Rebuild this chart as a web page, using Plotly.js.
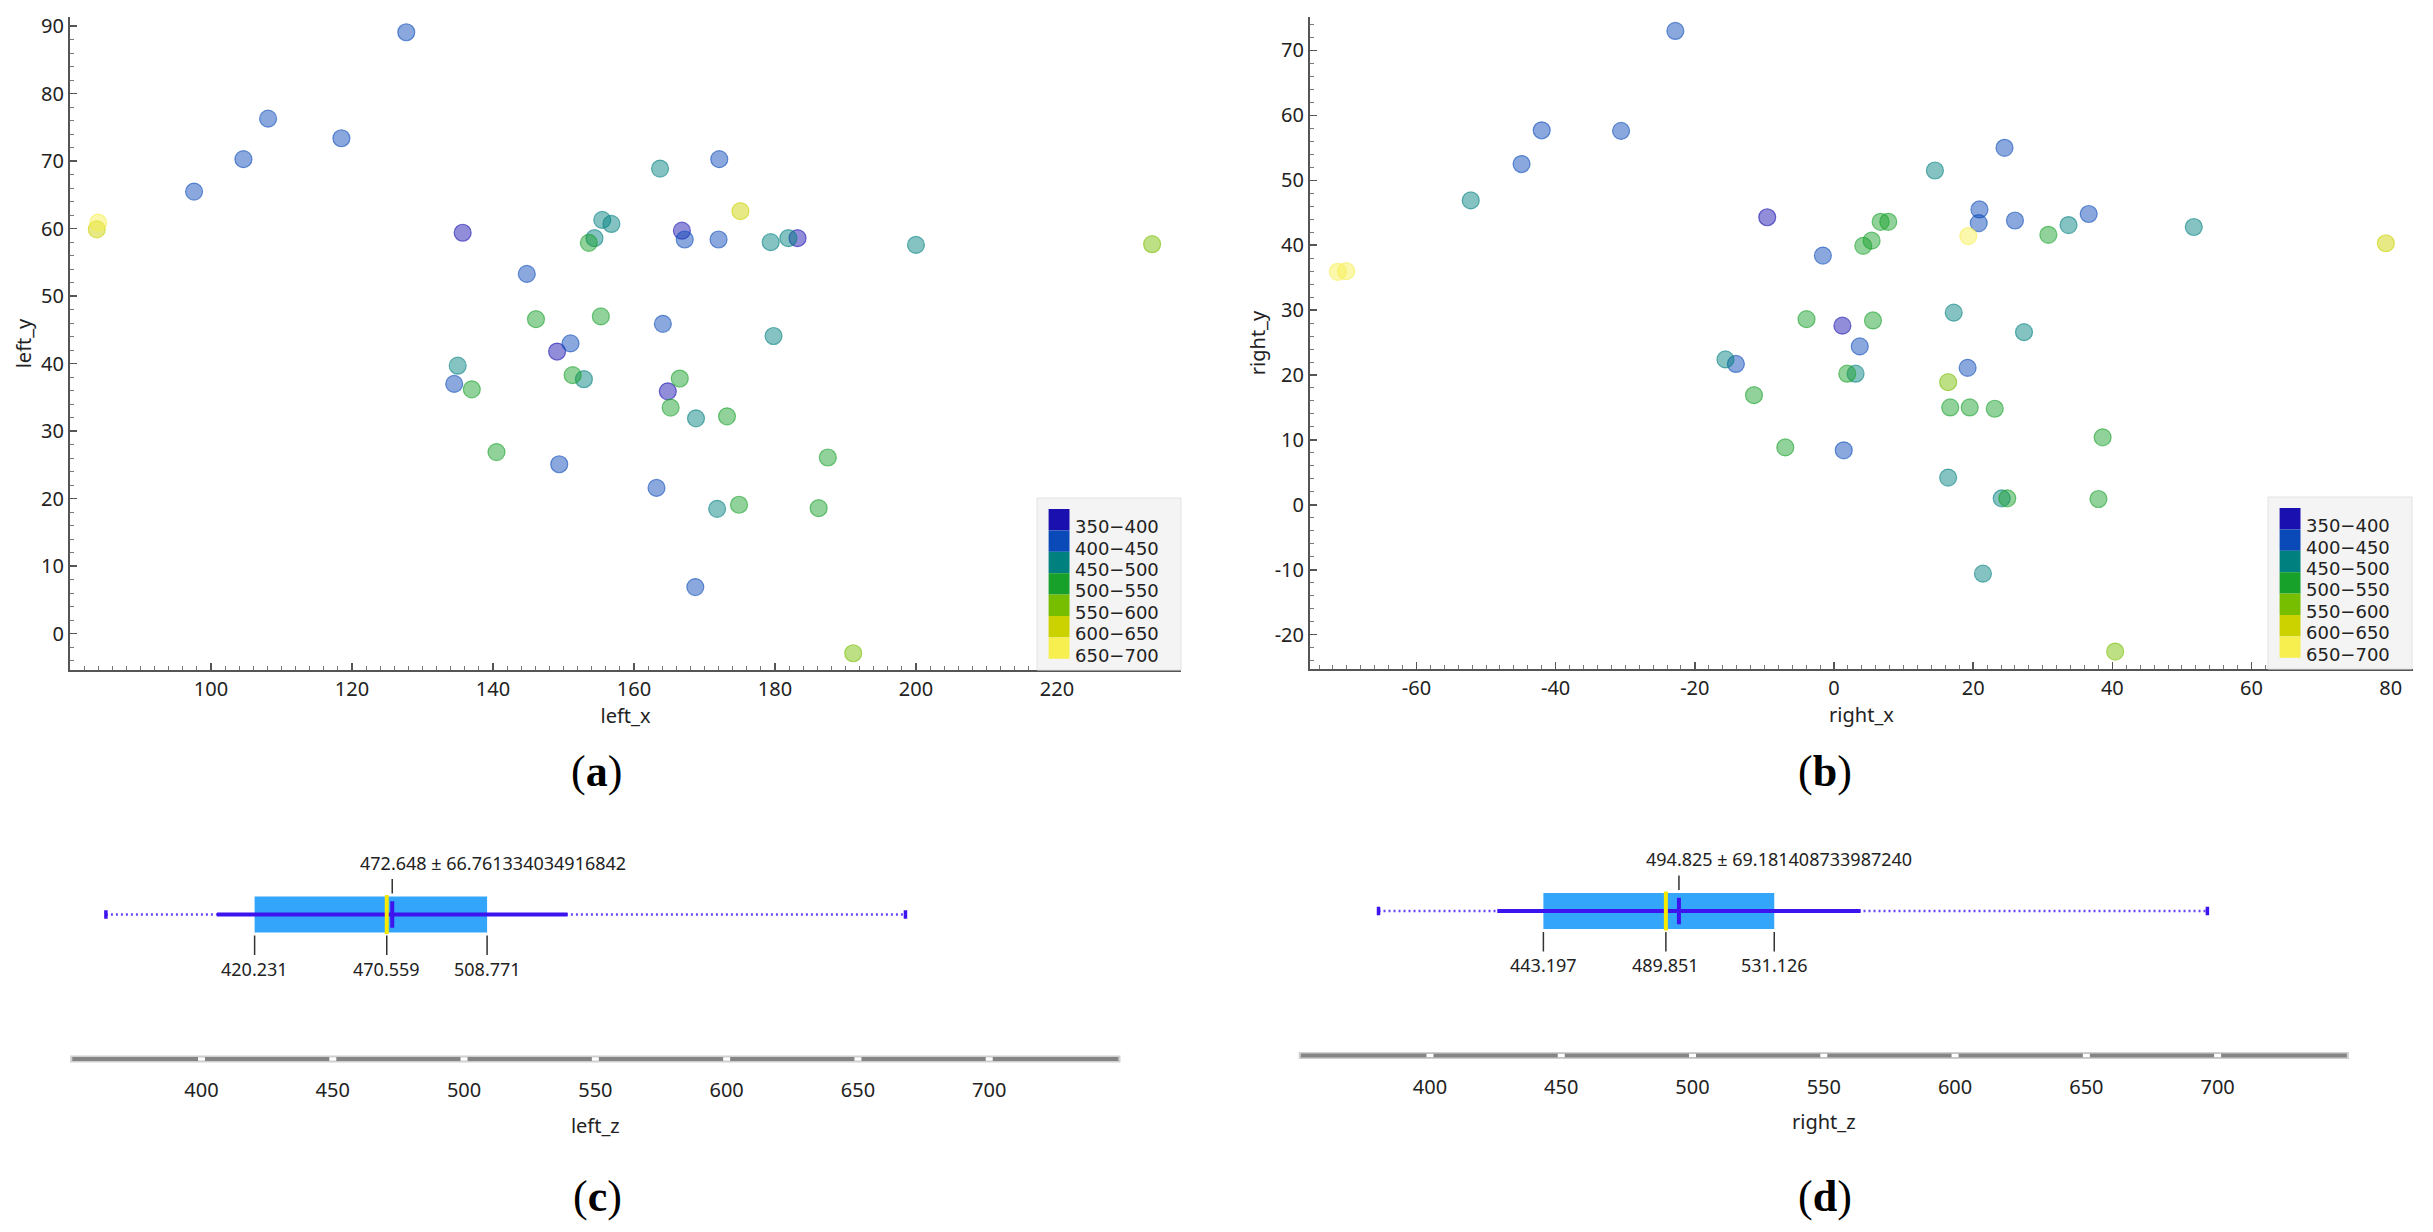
<!DOCTYPE html>
<html>
<head>
<meta charset="utf-8">
<script src="https://cdn.plot.ly/plotly-3.0.1.min.js"></script>
<style>html,body{margin:0;padding:0;background:#fff}#chart{width:2433px;height:1232px}</style>
</head>
<body>
<div id="chart"></div>
<script>
// ---------- data ----------
const binLabels = ['350−400','400−450','450−500','500−550','550−600','600−650','650−700'];
const binColors = ['#1a10b0','#0a4ab8','#00807f','#17a02a','#78be00','#ccd200','#f7ee50'];

const leftX = [127.7,108.1,118.5,104.6,97.6,84.0,83.8,135.7,144.8,146.1,151.0,149.1,135.0,134.5,137.0,151.3,152.9,140.5,149.4,
  155.5,156.8,154.4,153.6,155.3,163.7,172.1,175.1,166.8,167.2,172.0,179.4,181.9,183.2,200.0,233.5,164.1,179.8,166.5,164.8,
  165.2,168.8,173.2,187.5,163.2,171.8,174.9,186.2,168.7,191.1];
const leftY = [89.1,76.3,73.4,70.3,65.5,60.9,59.9,59.4,53.3,46.6,43.0,41.8,39.7,37.0,36.2,38.3,37.7,26.9,25.1,
  61.3,60.7,58.6,57.9,47.0,68.9,70.3,62.6,59.7,58.4,58.4,58.0,58.6,58.6,57.6,57.7,45.9,44.1,37.8,35.9,
  33.5,31.9,32.2,26.1,21.6,18.5,19.1,18.6,6.9,-2.9];
const leftBin = [1,1,1,1,1,6,5,0,1,3,1,0,2,1,3,3,2,3,1,
  2,2,2,3,3,2,1,5,0,1,1,2,2,0,2,4,1,2,3,0,
  3,2,3,3,1,2,3,3,1,4];

const rightX = [-22.8,-42.0,-30.6,-44.9,-52.2,-71.3,-70.1,-9.6,-1.6,-3.95,1.2,-15.6,-14.1,-11.5,-7.0,1.4,24.5,14.5,20.9,20.8,
  26.0,36.6,33.7,51.7,6.7,7.8,5.4,4.2,19.3,30.8,79.3,5.6,17.2,27.3,3.7,19.2,1.9,3.1,16.4,16.7,19.5,23.1,38.6,16.4,
  24.1,24.9,38.0,21.4,40.4];
const rightY = [73.0,57.7,57.6,52.5,46.9,35.9,36.0,44.3,38.4,28.6,27.6,22.4,21.7,16.9,8.85,8.4,55.0,51.5,45.5,43.4,
  43.8,44.8,43.1,42.8,43.6,43.6,40.7,39.9,41.4,41.6,40.3,28.4,29.6,26.6,24.4,21.1,20.2,20.2,18.9,15.0,15.0,14.8,10.4,4.2,
  1.0,1.0,0.9,-10.6,-22.6];
const rightBin = [1,1,1,1,2,6,6,0,1,3,0,2,1,3,3,1,1,2,1,1,
  1,1,2,2,3,3,3,3,6,3,5,3,2,2,1,1,3,2,4,3,3,3,3,2,
  2,3,3,2,4];

// tick labels
const leftXTicks  = [100,120,140,160,180,200,220];
const leftYTicks  = [0,10,20,30,40,50,60,70,80,90];
const rightXTicks = [-60,-40,-20,0,20,40,60,80];
const rightYTicks = [-20,-10,0,10,20,30,40,50,60,70];
const zTicks = [400,450,500,550,600,650,700];

// summary statistics of left_z and right_z
const leftStats  = {q1:420.231, median:470.559, q3:508.771, mean:472.648, sd:66.761334034916842, sdText:'66.761334034916842', min:363.6, max:668.1};
const rightStats = {q1:443.197, median:489.851, q3:531.126, mean:494.825, sd:69.18140873398724, sdText:'69.181408733987240', min:380.4, max:696.1};

// ---------- helpers ----------
const W = 2433, H = 1232;
const PX = v => v / W;
const PY = v => 1 - v / H;
const FONT = 'Noto Sans, Open Sans, sans-serif';
const LEGFONT = 'DejaVu Sans, sans-serif';
function rgba(hex, a){
  const n = parseInt(hex.slice(1),16);
  return `rgba(${(n>>16)&255},${(n>>8)&255},${n&255},${a})`;
}

function scatterTraces(xs, ys, bins, xa, ya){
  return binLabels.map((lab, b) => {
    const idx = bins.map((v,i)=> v===b ? i : -1).filter(i=>i>=0);
    return {type:'scatter', mode:'markers', xaxis:xa, yaxis:ya, showlegend:false, hoverinfo:'skip',
      x: idx.map(i=>xs[i]), y: idx.map(i=>ys[i]),
      marker:{size:17, color:rgba(binColors[b],0.48), line:{width:1.2, color:rgba(binColors[b],0.58)}}};
  });
}

const BOXBLUE = '#33a5fb', LINEBLUE = '#3d14ee', DOTBLUE = '#6a45ff', MEDYEL = '#f5ea00';
function statTraces(s, xa, ya){
  return [
    {type:'bar', orientation:'h', xaxis:xa, yaxis:ya, base:[s.q1], x:[s.q3-s.q1], y:[0], width:0.249,
      marker:{color:BOXBLUE, line:{width:0}}, showlegend:false, hoverinfo:'skip'},
    {type:'scatter', mode:'lines', xaxis:xa, yaxis:ya, x:[s.min, s.max], y:[0,0],
      line:{color:DOTBLUE, width:2.5, dash:'2px,3px'}, showlegend:false, hoverinfo:'skip'},
    {type:'scatter', mode:'lines', xaxis:xa, yaxis:ya, x:[s.mean - s.sd, s.mean + s.sd], y:[0,0],
      line:{color:LINEBLUE, width:4}, showlegend:false, hoverinfo:'skip'},
    {type:'scatter', mode:'markers', xaxis:xa, yaxis:ya, x:[s.min, s.max], y:[0,0],
      marker:{symbol:'line-ns', size:6, line:{width:3.5, color:LINEBLUE}}, showlegend:false, hoverinfo:'skip'},
    {type:'scatter', mode:'markers', xaxis:xa, yaxis:ya, x:[s.median], y:[0],
      marker:{symbol:'line-ns', size:28, line:{width:4, color:MEDYEL}}, showlegend:false, hoverinfo:'skip'},
    {type:'scatter', mode:'markers', xaxis:xa, yaxis:ya, x:[s.mean], y:[0],
      marker:{symbol:'line-ns', size:19, line:{width:4, color:LINEBLUE}}, showlegend:false, hoverinfo:'skip'}
  ];
}

function statAnnotations(s, xa, ya){
  const out = [];
  [s.q1, s.median, s.q3].forEach(v => out.push({
    xref:xa, yref:ya, x:v, y:0, text:v.toFixed(3), showarrow:true, arrowhead:0, arrowwidth:1.5,
    arrowcolor:'#333', ax:0, ay:54, standoff:21, font:{family:FONT, size:18, color:'#222'}
  }));
  out.push({xref:xa, yref:ya, x:s.mean, y:0, text:'', showarrow:true, arrowhead:0, arrowwidth:1.5,
    arrowcolor:'#333', ax:0, ay:-37, standoff:21});
  out.push({xref:xa, yref:ya, x:s.mean, y:0, text:s.mean.toFixed(3)+' ± '+s.sdText, showarrow:false,
    xanchor:'left', yanchor:'middle', xshift:-34.5, yshift:52, font:{family:FONT, size:18, color:'#222'}});
  return out;
}

function rulerShapes(xa, ya){
  const sh = [
    {type:'line', xref:xa+' domain', yref:ya+' domain', x0:0, x1:1, y0:0, y1:0, line:{color:'#d0d0d0', width:7}},
    {type:'line', xref:xa+' domain', yref:ya+' domain', x0:0.002, x1:0.998, y0:0, y1:0, line:{color:'#858585', width:4}}
  ];
  zTicks.forEach(t => sh.push({type:'rect', xref:xa, yref:ya+' domain', xsizemode:'pixel', ysizemode:'pixel',
    xanchor:t, yanchor:0, x0:-3.5, x1:3.5, y0:-1.8, y1:1.8, fillcolor:'#ffffff', line:{width:0}}));
  return sh;
}

function legendItems(left, bottom){
  const shapes = [{type:'rect', xref:'paper', yref:'paper', x0:PX(left), x1:PX(left+144), y0:PY(bottom), y1:PY(bottom-172),
    fillcolor:'#f4f4f4', line:{color:'#e2e2e2', width:1}, layer:'above'}];
  const ann = [];
  const top = bottom - 161, step = 21.4;
  binLabels.forEach((lab, i) => {
    shapes.push({type:'rect', xref:'paper', yref:'paper', x0:PX(left+11.6), x1:PX(left+32.5),
      y0:PY(top + i*step), y1:PY(top + (i+1)*step), fillcolor:binColors[i], line:{width:0}, layer:'above'});
    ann.push({xref:'paper', yref:'paper', x:PX(left+37), y:PY(top + (i+0.5)*step + 7), xanchor:'left', yanchor:'middle',
      text:lab, showarrow:false, borderpad:0, font:{family:LEGFONT, size:18, color:'#222'}});
  });
  return {shapes, ann};
}

// ---------- axes ----------
const tickFont = {family:FONT, size:20, color:'#222'};
const titleFont = {family:FONT, size:20, color:'#222'};
function scatterAxis(vals, extra){
  return Object.assign({showline:true, linecolor:'#555', linewidth:2, ticks:'inside', ticklen:7, tickwidth:1.5,
    tickcolor:'#555', showgrid:false, zeroline:false, tickfont:tickFont,
    tickmode:'array', tickvals:vals, ticktext:vals.map(String),
    minor:{tickmode:'linear', tick0:0, dtick:2, ticks:'inside', ticklen:4, tickwidth:1, tickcolor:'#777'}}, extra);
}
function rulerAxis(extra){
  return Object.assign({showline:false, ticks:'', showgrid:false, zeroline:false, tickfont:tickFont,
    tickmode:'array', tickvals:zTicks, ticktext:zTicks.map(String), ticklabelstandoff:17}, extra);
}

const traces = [].concat(
  scatterTraces(leftX, leftY, leftBin, 'x', 'y'),
  scatterTraces(rightX, rightY, rightBin, 'x2', 'y2'),
  statTraces(leftStats, 'x3', 'y3'),
  statTraces(rightStats, 'x4', 'y4')
);

const legA = legendItems(1037, 670);
const legB = legendItems(2268, 669);

const panelLabels = [['a',596,771],['b',1825,771],['c',597,1196],['d',1825,1196]].map(([l,x,y]) => ({
  xref:'paper', yref:'paper', x:PX(x), y:PY(y), xanchor:'center', yanchor:'middle', showarrow:false,
  text:'(<b>'+l+'</b>)', font:{family:'Liberation Serif, Times New Roman, serif', size:44, color:'#000'}
}));

const layout = {
  width:W, height:H, margin:{l:0,r:0,t:0,b:0}, paper_bgcolor:'#fff', plot_bgcolor:'rgba(0,0,0,0)',
  showlegend:false, font:{family:FONT, color:'#222'},
  xaxis: scatterAxis(leftXTicks, {domain:[PX(70),PX(1181)], range:[80,237.6], anchor:'y',
    title:{text:'left_x', font:titleFont, standoff:5}}),
  yaxis: scatterAxis(leftYTicks, {domain:[PY(670),PY(17)], range:[-5.38,91.36], anchor:'x',
    title:{text:'left_y', font:titleFont, standoff:4}}),
  xaxis2: scatterAxis(rightXTicks, {domain:[PX(1310),PX(2413)], range:[-75.3,83.2], anchor:'y2',
    title:{text:'right_x', font:titleFont, standoff:5}}),
  yaxis2: scatterAxis(rightYTicks, {domain:[PY(669),PY(17)], range:[-25.29,75.15], anchor:'x2',
    title:{text:'right_y', font:titleFont, standoff:4}}),
  xaxis3: rulerAxis({domain:[PX(70.2),PX(1120.5)], range:[350,750], anchor:'y3',
    title:{text:'left_z', font:titleFont, standoff:16}}),
  yaxis3: {domain:[PY(1059),PY(770)], range:[-1,1], visible:false, anchor:'x3', fixedrange:true},
  xaxis4: rulerAxis({domain:[PX(1298.7),PX(2348.9)], range:[350,750], anchor:'y4',
    title:{text:'right_z', font:titleFont, standoff:16}}),
  yaxis4: {domain:[PY(1055.5),PY(766.5)], range:[-1,1], visible:false, anchor:'x4', fixedrange:true},
  shapes: [].concat(rulerShapes('x3','y3'), rulerShapes('x4','y4'), legA.shapes, legB.shapes),
  annotations: [].concat(statAnnotations(leftStats,'x3','y3'), statAnnotations(rightStats,'x4','y4'),
    legA.ann, legB.ann, panelLabels)
};

Plotly.newPlot('chart', traces, layout, {staticPlot:true, displayModeBar:false});
</script>
</body>
</html>
